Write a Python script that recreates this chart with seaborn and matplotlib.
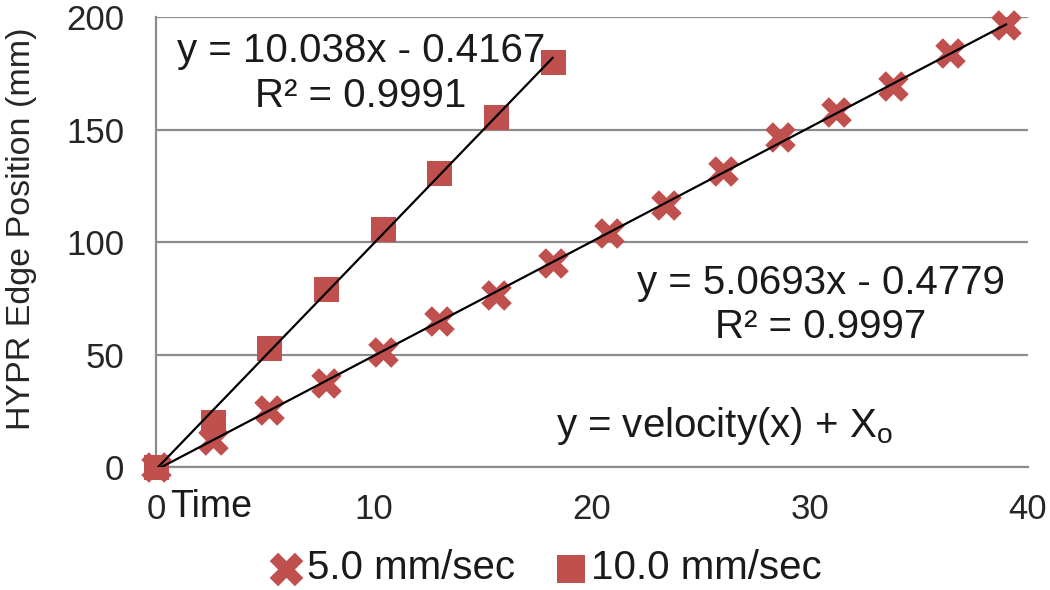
"""
HYPR edge position vs time, two velocities with linear trendlines
"""

import numpy as np
import pandas as pd
import matplotlib.pyplot as plt
import matplotlib.transforms as mtransforms
import seaborn as sns

# ─── Data ──────────────────────────────────────────────────────────────────────
time_5 = [0, 2.6, 5.2, 7.8, 10.4, 13.0, 15.6, 18.2, 20.8, 23.4, 26.0, 28.6, 31.2, 33.8, 36.4, 39.0]
pos_5 = [0, 12.0, 25.3, 37.5, 51.3, 64.9, 76.4, 90.5, 103.9, 116.4, 131.6, 146.5, 157.9, 169.3, 183.9, 196.4]
time_10 = [0, 2.6, 5.2, 7.8, 10.4, 13.0, 15.6, 18.2]
pos_10 = [0, 20.2, 52.8, 79.0, 105.6, 130.8, 155.4, 179.9]

labels = ["5.0 mm/sec", "10.0 mm/sec"]
eq_10 = "y = 10.038x - 0.4167\nR² = 0.9991"
eq_5 = "y = 5.0693x - 0.4779\nR² = 0.9997"
model_text = r"y = velocity(x) + X$_\mathrm{o}$"
x_ticks = [0, 10, 20, 30, 40]
y_ticks = [0, 50, 100, 150, 200]

RED = '#C0504D'
GRID = '#8c8c8c'

# ─── Style ─────────────────────────────────────────────────────────────────────
sns.set_theme(style="white")
plt.rcParams.update({
    'font.family': ['Liberation Sans', 'DejaVu Sans'],
    'mathtext.fontset': 'custom',
    'mathtext.rm': 'Liberation Sans',
    'mathtext.it': 'Liberation Sans:italic',
    'text.color': '#1a1a1a',
})

df5 = pd.DataFrame({"t": time_5, "x": pos_5})
df10 = pd.DataFrame({"t": time_10, "x": pos_10})

fig = plt.figure(figsize=(10.5, 5.9), dpi=100)
ax = fig.add_axes([0.1486, 0.2085, 0.8305, 0.7625])

for y in y_ticks:
    ax.axhline(y, color=GRID, lw=1.6, zorder=0)

sns.scatterplot(data=df5, x="t", y="x", ax=ax, marker="X", s=22**2, color=RED,
                linewidth=0, label=labels[0], clip_on=False, zorder=3)
sns.scatterplot(data=df10, x="t", y="x", ax=ax, marker="s", s=18**2, color=RED,
                linewidth=0, label=labels[1], clip_on=False, zorder=3)

# linear trendlines
for d in (df5, df10):
    sns.regplot(data=d, x="t", y="x", ax=ax, scatter=False, ci=None,
                line_kws={'color': 'black', 'lw': 1.6, 'zorder': 4})

ax.set_xlim(0, 40)
ax.set_ylim(0, 200)
ax.set_xticks(x_ticks)
ax.set_yticks(y_ticks)
ax.set_xlabel("")
ax.set_ylabel("HYPR Edge Position (mm)", fontsize=24.5)
ax.yaxis.set_label_coords(-0.137, 0.53)

for s in ['top', 'right']:
    ax.spines[s].set_visible(False)
for s in ['left', 'bottom']:
    ax.spines[s].set_color(GRID)
    ax.spines[s].set_linewidth(1.6)
ax.tick_params(axis='both', which='major', labelsize=25, direction='out',
               length=8, width=1.6, color=GRID)
ax.tick_params(axis='y', pad=15)
ax.tick_params(axis='x', pad=11)

# "Time" next to the 0 tick label
trans = mtransforms.blended_transform_factory(ax.transData, ax.transAxes)
ax.text(0.64, -0.089, "Time", transform=trans, fontsize=27, ha='left', va='center')

ax.text(9.4, 175, eq_10, fontsize=29, ha='center', va='center', linespacing=1.23)
ax.text(30.5, 72, eq_5, fontsize=29, ha='center', va='center', linespacing=1.23)
ax.text(26.05, 13.3, model_text, fontsize=29, ha='center', va='baseline')

handles, lbls = ax.get_legend_handles_labels()
ax.legend_.remove()
fig.legend(handles, lbls, loc='lower center', bbox_to_anchor=(0.52, -0.057), ncol=2,
           frameon=False, fontsize=29, handlelength=0.8, handletextpad=0.1,
           columnspacing=1.0, markerscale=1.1)

plt.savefig("out.png", dpi=100)
